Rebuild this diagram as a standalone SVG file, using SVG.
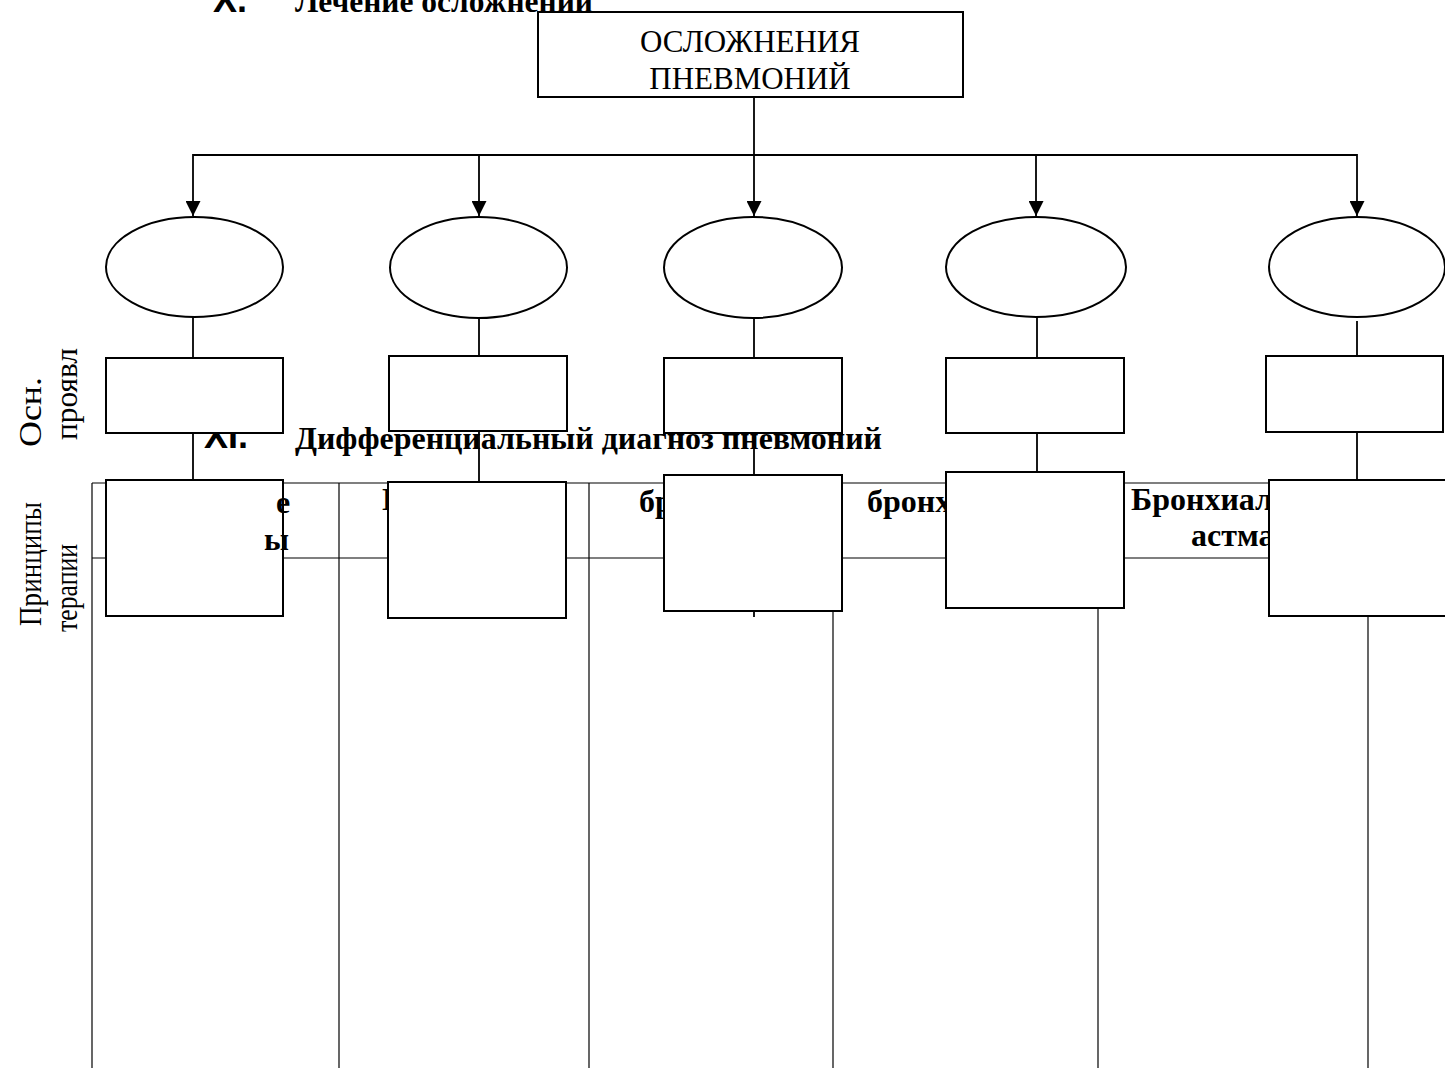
<svg xmlns="http://www.w3.org/2000/svg" width="1445" height="1068" viewBox="0 0 1445 1068">
<style>
.node{fill:#fff;stroke:#000;stroke-width:2}
.conn{stroke:#000;stroke-width:1.8;fill:none}
.tbl{stroke:#000;stroke-width:1.2;fill:none}
.serif{font-family:"Liberation Serif","Times New Roman",serif;fill:#000}
.b{font-weight:bold}
.sans{font-family:"Liberation Sans",Arial,sans-serif;font-weight:bold;fill:#000}
</style>
<defs>
<marker id="arr" viewBox="0 0 10 10" refX="10" refY="5" markerWidth="15" markerHeight="15" markerUnits="userSpaceOnUse" orient="auto">
<path d="M0,0 L10,5 L0,10 Z" fill="#000"/>
</marker>
</defs>
<rect width="1445" height="1068" fill="#fff"/>

<g id="titles">
<text class="sans" x="247" y="12" font-size="36" text-anchor="end">X.</text>
<text class="serif b" x="295" y="12" font-size="32" textLength="298" lengthAdjust="spacingAndGlyphs">Лечение осложнений</text>
<text class="sans" x="248" y="448" font-size="36" text-anchor="end">XI.</text>
<text class="serif b" x="295" y="449" font-size="32" textLength="587" lengthAdjust="spacingAndGlyphs">Дифференциальный диагноз пневмоний</text>
</g>

<g id="table">
<line class="tbl" x1="92" y1="483" x2="1445" y2="483"/>
<line class="tbl" x1="92" y1="558" x2="1445" y2="558"/>
<line class="tbl" x1="92" y1="483" x2="92" y2="1068"/>
<line class="tbl" x1="339" y1="483" x2="339" y2="1068"/>
<line class="tbl" x1="589" y1="483" x2="589" y2="1068"/>
<line class="tbl" x1="833" y1="483" x2="833" y2="1068"/>
<line class="tbl" x1="1098" y1="483" x2="1098" y2="1068"/>
<line class="tbl" x1="1368" y1="483" x2="1368" y2="1068"/>
<text class="serif b" x="382" y="510" font-size="32">П</text>
<text class="serif b" x="639" y="512" font-size="32">бр</text>
<text class="serif b" x="867" y="512" font-size="32">бронх</text>
<text class="serif b" x="1131" y="510" font-size="32">Бронхиал</text>
<text class="serif b" x="1191" y="546" font-size="32">астма</text>
</g>

<g id="connectors">
<line class="conn" x1="754" y1="97" x2="754" y2="155"/>
<line class="conn" x1="193" y1="155" x2="1357" y2="155"/>
<line class="conn" x1="193" y1="154" x2="193" y2="216" marker-end="url(#arr)"/>
<line class="conn" x1="479" y1="154" x2="479" y2="216" marker-end="url(#arr)"/>
<line class="conn" x1="754" y1="154" x2="754" y2="216" marker-end="url(#arr)"/>
<line class="conn" x1="1036" y1="154" x2="1036" y2="216" marker-end="url(#arr)"/>
<line class="conn" x1="1357" y1="154" x2="1357" y2="216" marker-end="url(#arr)"/>
<line class="conn" x1="193" y1="317" x2="193" y2="358"/>
<line class="conn" x1="193" y1="433" x2="193" y2="480"/>
<line class="conn" x1="479" y1="318" x2="479" y2="356"/>
<line class="conn" x1="479" y1="431" x2="479" y2="482"/>
<line class="conn" x1="754" y1="318" x2="754" y2="358"/>
<line class="conn" x1="754" y1="433" x2="754" y2="475"/>
<line class="conn" x1="754" y1="611" x2="754" y2="617"/>
<line class="conn" x1="1037" y1="316" x2="1037" y2="358"/>
<line class="conn" x1="1037" y1="433" x2="1037" y2="472"/>
<line class="conn" x1="1357" y1="321" x2="1357" y2="356"/>
<line class="conn" x1="1357" y1="432" x2="1357" y2="480"/>
</g>

<g id="root">
<rect class="node" x="538" y="12" width="425" height="85"/>
<text class="serif" x="750" y="52" font-size="31" text-anchor="middle">ОСЛОЖНЕНИЯ</text>
<text class="serif" x="750" y="89" font-size="31" text-anchor="middle">ПНЕВМОНИЙ</text>
</g>

<g id="col1">
<ellipse class="node" cx="194.5" cy="267" rx="88.5" ry="50"/>
<rect class="node" x="106" y="358" width="177" height="75"/>
<rect class="node" x="106" y="480" width="177" height="136"/>
</g>
<g id="col2">
<ellipse class="node" cx="478.5" cy="267.5" rx="88.5" ry="50.5"/>
<rect class="node" x="389" y="356" width="178" height="75"/>
<rect class="node" x="388" y="482" width="178" height="136"/>
</g>
<g id="col3">
<ellipse class="node" cx="753" cy="267.5" rx="89" ry="50.5"/>
<rect class="node" x="664" y="358" width="178" height="75"/>
<rect class="node" x="664" y="475" width="178" height="136"/>
</g>
<g id="col4">
<ellipse class="node" cx="1036" cy="267" rx="90" ry="50"/>
<rect class="node" x="946" y="358" width="178" height="75"/>
<rect class="node" x="946" y="472" width="178" height="136"/>
</g>
<g id="col5">
<ellipse class="node" cx="1357" cy="267" rx="88" ry="50"/>
<rect class="node" x="1266" y="356" width="177" height="76"/>
<rect class="node" x="1269" y="480" width="178" height="136"/>
</g>

<g id="overlay-text">
<text class="serif b" x="276" y="513" font-size="32">е</text>
<text class="serif b" x="264" y="550" font-size="32">ы</text>
</g>

<g id="row-labels">
<text class="serif" font-size="32" transform="translate(41,447) rotate(-90)" textLength="70" lengthAdjust="spacingAndGlyphs">Осн.</text>
<text class="serif" font-size="32" transform="translate(77,440) rotate(-90)" textLength="92" lengthAdjust="spacingAndGlyphs">проявл</text>
<text class="serif" font-size="32" transform="translate(41,626) rotate(-90)" textLength="124" lengthAdjust="spacingAndGlyphs">Принципы</text>
<text class="serif" font-size="32" transform="translate(77,632) rotate(-90)" textLength="88" lengthAdjust="spacingAndGlyphs">терапии</text>
</g>
</svg>
